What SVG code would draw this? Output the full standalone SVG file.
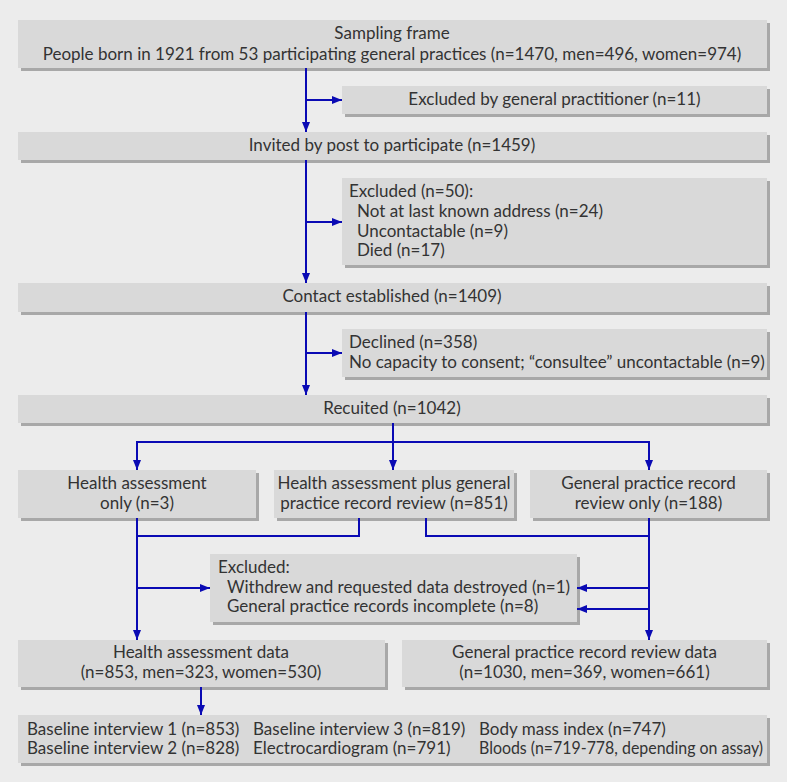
<svg xmlns="http://www.w3.org/2000/svg" width="787" height="782" viewBox="0 0 787 782">
<defs>
<style>
.bg{fill:#ececec}
.sh{fill:#a8a8a8}
.bx{fill:#d9d9d9}
text{font-family:Lato,"Open Sans","Liberation Sans",sans-serif;font-size:17px;fill:#333333}
.c{text-anchor:middle}
.ln{fill:none;stroke:#0a0ab4;stroke-width:2}
</style>
<marker id="ah" viewBox="0 0 10 8" refX="10" refY="4" markerWidth="11" markerHeight="8" markerUnits="userSpaceOnUse" orient="auto">
<path d="M0,0 L10,4 L0,8 z" fill="#0a0ab4"/>
</marker>
</defs>
<rect class="bg" x="0" y="0" width="787" height="782"/>

<g id="n1"><rect class="sh" x="21" y="23" width="749" height="48"/><rect class="bx" x="18" y="20" width="749" height="48"/>
<text class="c" x="392" y="39">Sampling frame</text>
<text class="c" x="392" y="60">People born in 1921 from 53 participating general practices (n=1470, men=496, women=974)</text></g>

<g id="n2"><rect class="sh" x="345" y="89" width="425" height="28"/><rect class="bx" x="342" y="86" width="425" height="28"/>
<text class="c" x="554.5" y="105">Excluded by general practitioner (n=11)</text></g>

<g id="n3"><rect class="sh" x="21" y="135" width="749" height="28"/><rect class="bx" x="18" y="132" width="749" height="28"/>
<text class="c" x="392" y="151">Invited by post to participate (n=1459)</text></g>

<g id="n4"><rect class="sh" x="345" y="181" width="425" height="87"/><rect class="bx" x="342" y="178" width="425" height="87"/>
<text x="349" y="197">Excluded (n=50):</text>
<text x="357" y="217">Not at last known address (n=24)</text>
<text x="357" y="237">Uncontactable (n=9)</text>
<text x="357" y="256">Died (n=17)</text></g>

<g id="n5"><rect class="sh" x="21" y="286" width="749" height="29"/><rect class="bx" x="18" y="283" width="749" height="29"/>
<text class="c" x="392" y="302">Contact established (n=1409)</text></g>

<g id="n6"><rect class="sh" x="345" y="332" width="425" height="48"/><rect class="bx" x="342" y="329" width="425" height="48"/>
<text x="349" y="348">Declined (n=358)</text>
<text x="349" y="368">No capacity to consent; “consultee” uncontactable (n=9)</text></g>

<g id="n7"><rect class="sh" x="21" y="398" width="749" height="28"/><rect class="bx" x="18" y="395" width="749" height="28"/>
<text class="c" x="392" y="414">Recuited (n=1042)</text></g>

<g id="n8"><rect class="sh" x="21" y="473" width="238" height="48"/><rect class="bx" x="18" y="470" width="238" height="48"/>
<text class="c" x="137" y="489">Health assessment</text>
<text class="c" x="137" y="509">only (n=3)</text></g>

<g id="n9"><rect class="sh" x="277" y="473" width="240" height="48"/><rect class="bx" x="274" y="470" width="240" height="48"/>
<text class="c" x="394" y="489">Health assessment plus general</text>
<text class="c" x="394" y="509">practice record review (n=851)</text></g>

<g id="n10"><rect class="sh" x="533" y="473" width="237" height="48"/><rect class="bx" x="530" y="470" width="237" height="48"/>
<text class="c" x="648.5" y="489">General practice record</text>
<text class="c" x="648.5" y="509">review only (n=188)</text></g>

<g id="n11"><rect class="sh" x="213" y="557" width="367" height="68"/><rect class="bx" x="210" y="554" width="367" height="68"/>
<text x="218" y="573">Excluded:</text>
<text x="227" y="593">Withdrew and requested data destroyed (n=1)</text>
<text x="227" y="612">General practice records incomplete (n=8)</text></g>

<g id="n12"><rect class="sh" x="21" y="643" width="367" height="47"/><rect class="bx" x="18" y="640" width="367" height="47"/>
<text class="c" x="201" y="658">Health assessment data</text>
<text class="c" x="201" y="678">(n=853, men=323, women=530)</text></g>

<g id="n13"><rect class="sh" x="405" y="643" width="365" height="47"/><rect class="bx" x="402" y="640" width="365" height="47"/>
<text class="c" x="584.5" y="658">General practice record review data</text>
<text class="c" x="584.5" y="678">(n=1030, men=369, women=661)</text></g>

<g id="n14"><rect class="sh" x="21" y="718" width="749" height="48"/><rect class="bx" x="18" y="715" width="749" height="48"/>
<text x="27" y="735">Baseline interview 1 (n=853)</text>
<text x="27" y="754">Baseline interview 2 (n=828)</text>
<text x="253" y="735">Baseline interview 3 (n=819)</text>
<text x="253" y="754">Electrocardiogram (n=791)</text>
<text x="479" y="735">Body mass index (n=747)</text>
<text x="479" y="754" textLength="284" lengthAdjust="spacingAndGlyphs">Bloods (n=719-778, depending on assay)</text></g>

<g id="connectors">
<path class="ln" d="M306,68 V132" marker-end="url(#ah)"/>
<path class="ln" d="M306,100 H342" marker-end="url(#ah)"/>
<path class="ln" d="M306,160 V283" marker-end="url(#ah)"/>
<path class="ln" d="M306,222 H342" marker-end="url(#ah)"/>
<path class="ln" d="M306,312 V395" marker-end="url(#ah)"/>
<path class="ln" d="M306,353 H342" marker-end="url(#ah)"/>
<path class="ln" d="M393,423 V470" marker-end="url(#ah)"/>
<path class="ln" d="M137,470 V442 H649 V470" marker-end="url(#ah)"/>
<path class="ln" d="M137,442 V470" marker-end="url(#ah)"/>
<path class="ln" d="M137,518 V640" marker-end="url(#ah)"/>
<path class="ln" d="M359,518 V536 H137"/>
<path class="ln" d="M426,518 V536 H649"/>
<path class="ln" d="M649,518 V640" marker-end="url(#ah)"/>
<path class="ln" d="M137,588 H210" marker-end="url(#ah)"/>
<path class="ln" d="M649,588 H577" marker-end="url(#ah)"/>
<path class="ln" d="M649,609 H577" marker-end="url(#ah)"/>
<path class="ln" d="M201,687 V715" marker-end="url(#ah)"/>
</g>
</svg>
